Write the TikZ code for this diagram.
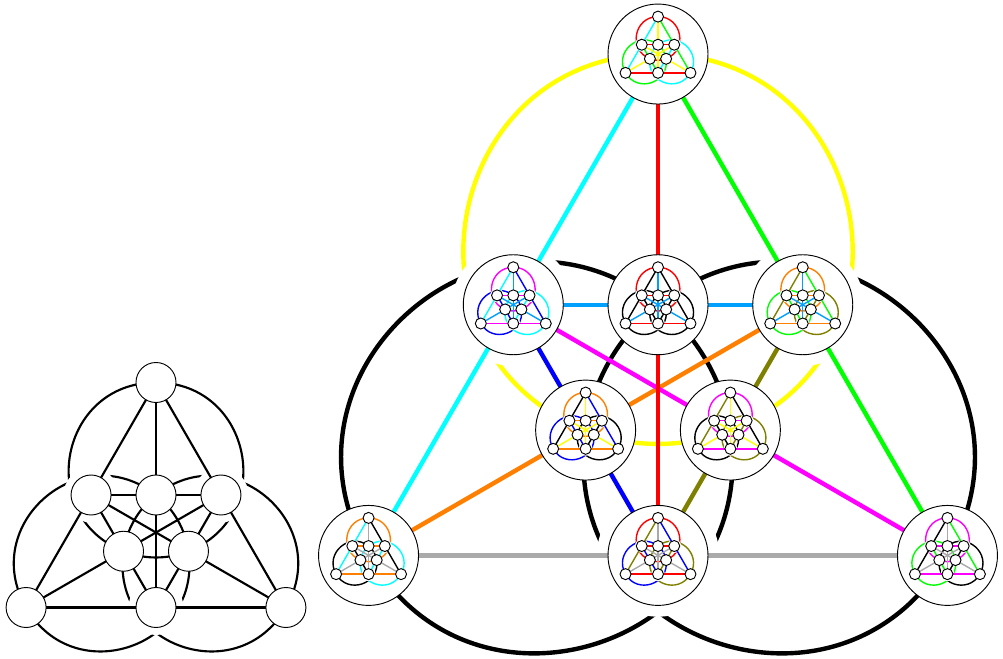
\documentclass[tikz,border=0pt]{standalone}
\usepackage{tikz}
\usetikzlibrary{calc}
\definecolor{hsred}{RGB}{255,0,0}
\definecolor{hsgreen}{RGB}{0,255,0}
\definecolor{hsblue}{RGB}{0,0,255}
\definecolor{hscyan}{RGB}{0,255,255}
\definecolor{hsyellow}{RGB}{255,255,0}
\definecolor{hsmagenta}{RGB}{255,0,255}
\definecolor{hssky}{RGB}{0,160,255}
\definecolor{hsorange}{RGB}{255,128,0}
\definecolor{hsolive}{RGB}{128,128,0}
\definecolor{hsgray}{RGB}{170,170,170}
\tikzset{
  hsvertex/.style={circle, draw=black, fill=white, line width=0.7pt, inner sep=0pt},
  longarc/.style={out=180+#1, in=158.2+#1, looseness=1.431},
  shortarc/.style={out=338.2+#1, in=201.8+#1, looseness=0.883},
  backarc/.style={out=21.8+#1, in=#1, looseness=1.431}
}
% one colour for each of the twelve lines, by parallel class
\newcommand{\hspalette}[4]{%
  \colorlet{hsd}{#1}\colorlet{hse}{#1}\colorlet{hsp}{#1}%
  \colorlet{hsa}{#2}\colorlet{hsg}{#2}\colorlet{hsq}{#2}%
  \colorlet{hsc}{#3}\colorlet{hsf}{#3}\colorlet{hss}{#3}%
  \colorlet{hsk}{#4}\colorlet{hsh}{#4}\colorlet{hsi}{#4}%
}
% #1 prefix, #2 centre, #3 scale, #4 line width, #5 vertex size
\newcommand{\hessegraph}[5]{%
  \begin{scope}[shift={(#2)}, scale=#3, line width=#4]
    \coordinate (#1t) at (90:150);
    \coordinate (#1x) at (210:150);
    \coordinate (#1z) at (330:150);
    \coordinate (#1y) at (270:75);
    \coordinate (#1l) at (150:75);
    \coordinate (#1r) at (30:75);
    \coordinate (#1m) at (90:37.5);
    \coordinate (#1a) at (210:37.5);
    \coordinate (#1b) at (330:37.5);
    \draw[draw=hsp] (#1t) to[longarc=0] (#1a) to[shortarc=0] (#1b) to[backarc=0] (#1t);
    \draw[draw=hss] (#1x) to[longarc=120] (#1b) to[shortarc=120] (#1m) to[backarc=120] (#1x);
    \draw[draw=hsq] (#1z) to[longarc=240] (#1m) to[shortarc=240] (#1a) to[backarc=240] (#1z);
    \foreach \p in {l,r,y} \fill[white] (#1\p) circle[radius=27.5];
    \draw[draw=hsa] (#1t) -- (#1l) -- (#1x);
    \draw[draw=hsc] (#1t) -- (#1r) -- (#1z);
    \draw[draw=hsd] (#1l) -- (#1m) -- (#1r);
    \draw[draw=hse] (#1x) -- (#1y) -- (#1z);
    \draw[draw=hsf] (#1l) -- (#1a) -- (#1y);
    \draw[draw=hsg] (#1r) -- (#1b) -- (#1y);
    \draw[draw=hsh] (#1r) -- (#1a) -- (#1x);
    \draw[draw=hsi] (#1l) -- (#1b) -- (#1z);
    \draw[draw=hsk] (#1t) -- (#1m) -- (#1y);
    \foreach \p in {t,l,m,r,a,b,x,y,z}
      \node[hsvertex, minimum size=#5] (#1\p n) at (#1\p) {};
  \end{scope}
}

\begin{document}
\begin{tikzpicture}[x=0.75pt, y=0.75pt]
  \useasboundingbox (0,0) rectangle (1003,658);
  \coordinate (leftc) at (156,125.5);
  \coordinate (bigc) at (658,269.7);

  \hspalette{black}{black}{black}{black}
  \hessegraph{s}{leftc}{1}{1.6pt}{30pt}

  \colorlet{hsa}{hscyan}\colorlet{hsk}{hsred}\colorlet{hsc}{hsgreen}
  \colorlet{hsd}{hssky}\colorlet{hse}{hsgray}\colorlet{hsf}{hsblue}
  \colorlet{hsg}{hsolive}\colorlet{hsh}{hsorange}\colorlet{hsi}{hsmagenta}
  \colorlet{hsp}{hsyellow}\colorlet{hsq}{black}\colorlet{hss}{black}
  \hessegraph{g}{bigc}{2.228}{3.3pt}{75pt}

  \hspalette{hsred}{hscyan}{hsgreen}{hsyellow}
  \hessegraph{pt}{gt}{0.25}{1.05pt}{8.25pt}
  \hspalette{hsmagenta}{hscyan}{hsblue}{hssky}
  \hessegraph{pl}{gl}{0.25}{1.05pt}{8.25pt}
  \hspalette{hsred}{black}{black}{hssky}
  \hessegraph{pm}{gm}{0.25}{1.05pt}{8.25pt}
  \hspalette{hsorange}{hsolive}{hsgreen}{hssky}
  \hessegraph{pr}{gr}{0.25}{1.05pt}{8.25pt}
  \hspalette{hsorange}{black}{hsblue}{hsyellow}
  \hessegraph{pa}{ga}{0.25}{1.05pt}{8.25pt}
  \hspalette{hsmagenta}{hsolive}{black}{hsyellow}
  \hessegraph{pb}{gb}{0.25}{1.05pt}{8.25pt}
  \hspalette{hsorange}{hscyan}{black}{hsgray}
  \hessegraph{px}{gx}{0.25}{1.05pt}{8.25pt}
  \hspalette{hsred}{hsolive}{hsblue}{hsgray}
  \hessegraph{py}{gy}{0.25}{1.05pt}{8.25pt}
  \hspalette{hsmagenta}{black}{hsgreen}{hsgray}
  \hessegraph{pz}{gz}{0.25}{1.05pt}{8.25pt}
\end{tikzpicture}
\end{document}
